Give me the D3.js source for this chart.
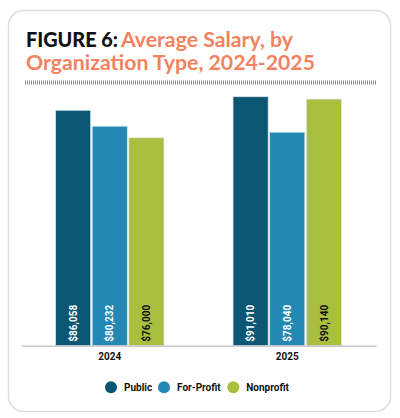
<!DOCTYPE html>
<html>
<head>
<meta charset="utf-8">
<script src="https://cdn.jsdelivr.net/npm/d3@7"></script>
<style>
  body { margin: 0; background: #fff; }
  svg { display: block; }
</style>
</head>
<body>
<div id="chart"></div>
<script>
const years = ["2024", "2025"];
const orgTypes = ["Public", "For-Profit", "Nonprofit"];
const publicSalary = [86058, 91010];
const forProfitSalary = [80232, 78040];
const nonprofitSalary = [76000, 90140];

const colors = d3.scaleOrdinal()
    .domain(orgTypes)
    .range(["#0b5673", "#2388b3", "#a8bf40"]);

const labelColors = { "Public": "#fff", "For-Profit": "#fff", "Nonprofit": "#111" };

const width = 400;
const height = 418;

const svg = d3.select("#chart")
    .append("svg")
    .attr("width", width)
    .attr("height", height);

// card
svg.append("rect")
    .attr("x", 8.5)
    .attr("y", 10.5)
    .attr("width", 382)
    .attr("height", 401)
    .attr("rx", 15)
    .attr("fill", "#fff")
    .attr("stroke", "#dedede")
    .attr("stroke-width", 1.5);

// title
const titleFont = "Lato, 'Open Sans', sans-serif";
svg.append("text")
    .attr("x", 26)
    .attr("y", 47)
    .attr("textLength", 92)
    .attr("lengthAdjust", "spacingAndGlyphs")
    .style("font-family", titleFont)
    .style("font-weight", 900)
    .style("font-size", "20px")
    .attr("fill", "#111")
    .text("FIGURE 6:");

svg.append("text")
    .attr("x", 121)
    .attr("y", 47)
    .attr("textLength", 172)
    .attr("lengthAdjust", "spacingAndGlyphs")
    .style("font-family", titleFont)
    .style("font-weight", 700)
    .style("font-size", "20px")
    .attr("fill", "#f3825f")
    .text("Average Salary, by");

svg.append("text")
    .attr("x", 26)
    .attr("y", 69.5)
    .attr("textLength", 289)
    .attr("lengthAdjust", "spacingAndGlyphs")
    .style("font-family", titleFont)
    .style("font-weight", 700)
    .style("font-size", "20px")
    .attr("fill", "#f3825f")
    .text("Organization Type, 2024-2025");

// dotted rule under title
svg.append("line")
    .attr("x1", 25)
    .attr("x2", 376)
    .attr("y1", 82.5)
    .attr("y2", 82.5)
    .attr("stroke", "#8c8c8c")
    .attr("stroke-width", 4)
    .attr("stroke-dasharray", "1 1");

// scales
const x0 = d3.scaleBand()
    .domain(years)
    .range([21, 376]);

const x1 = d3.scaleBand()
    .domain(orgTypes)
    .range([34.5, 143])
    .paddingInner(0.04);

const y = d3.scaleLinear()
    .domain([0, 100000])
    .range([345.7, 72.1]);

const rows = years.map((yr, i) => ({
    year: yr,
    values: [
        { type: "Public", value: publicSalary[i] },
        { type: "For-Profit", value: forProfitSalary[i] },
        { type: "Nonprofit", value: nonprofitSalary[i] }
    ]
}));

const groups = svg.selectAll("g.group")
    .data(rows)
    .enter()
    .append("g")
    .attr("class", "group")
    .attr("transform", (d) => `translate(${x0(d.year)},0)`);

groups.selectAll("rect")
    .data((d) => d.values)
    .enter()
    .append("rect")
    .attr("x", (d) => x1(d.type))
    .attr("y", (d) => y(d.value))
    .attr("width", x1.bandwidth())
    .attr("height", (d) => y(0) - y(d.value))
    .attr("fill", (d) => colors(d.type))
    .attr("stroke", "#dbe9ee")
    .attr("stroke-width", 0.8);

const fmt = d3.format("$,");
groups.selectAll("text.val")
    .data((d) => d.values)
    .enter()
    .append("text")
    .attr("class", "val")
    .attr("transform", (d) => `translate(${x1(d.type) + x1.bandwidth() / 2},${y(0) - 4}) rotate(-90)`)
    .attr("dy", "0.36em")
    .style("font-family", "Roboto, Arial, sans-serif")
    .style("font-weight", 700)
    .style("font-size", "10px")
    .attr("fill", (d) => labelColors[d.type])
    .text((d) => fmt(d.value));

// baseline axis
const xAxis = svg.append("g")
    .attr("transform", `translate(0,${y(0)})`)
    .call(d3.axisBottom(x0).tickSize(0).tickPadding(7));

xAxis.select(".domain")
    .attr("stroke", "#bdbdbd")
    .attr("stroke-width", 1.2);

xAxis.selectAll("text")
    .style("font-family", "Roboto, Arial, sans-serif")
    .style("font-weight", 700)
    .style("font-size", "10px")
    .attr("fill", "#111");

// legend
const legendX = [111, 164, 233.3];
const legend = svg.append("g")
    .attr("transform", "translate(0,387.3)");

orgTypes.forEach((t, i) => {
    legend.append("circle")
        .attr("cx", legendX[i])
        .attr("cy", 0)
        .attr("r", 6)
        .attr("fill", colors(t));

    legend.append("text")
        .attr("x", legendX[i] + 13)
        .attr("y", 0)
        .attr("dy", "0.35em")
        .style("font-family", "Roboto, Arial, sans-serif")
        .style("font-weight", 700)
        .style("font-size", "10px")
        .attr("fill", "#111")
        .text(t);
});
</script>
</body>
</html>
